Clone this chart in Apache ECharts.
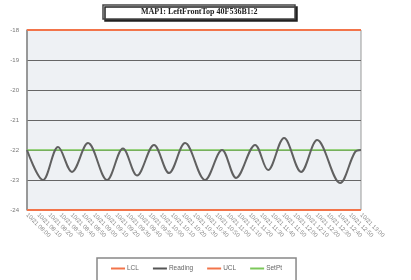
<!DOCTYPE html>
<html>
<head>
<meta charset="utf-8">
<script src="https://cdn.jsdelivr.net/npm/echarts@6/dist/echarts.min.js"></script>
<style>
  html, body { margin: 0; padding: 0; background: #fff; }
  #chart { width: 411px; height: 280px; }
</style>
</head>
<body>
<div id="chart"></div>
<script>
// category labels under the x axis (unreadable in the source, time stamps assumed)
const timeLabels = ['10/21 08:00','10/21 08:10','10/21 08:20','10/21 08:30','10/21 08:40','10/21 08:50',
  '10/21 09:00','10/21 09:10','10/21 09:20','10/21 09:30','10/21 09:40','10/21 09:50',
  '10/21 10:00','10/21 10:10','10/21 10:20','10/21 10:30','10/21 10:40','10/21 10:50',
  '10/21 11:00','10/21 11:10','10/21 11:20','10/21 11:30','10/21 11:40','10/21 11:50',
  '10/21 12:00','10/21 12:10','10/21 12:20','10/21 12:30','10/21 12:40','10/21 12:50','10/21 13:00'];

// reading: [position along the axis (label index), value]
const readingPts = [
  [0, -22.0], [1.44, -23.0], [2.79, -21.9], [4.04, -22.73], [5.48, -21.77],
  [7.19, -23.0], [8.62, -21.95], [9.88, -22.85], [11.41, -21.83], [12.76, -22.77],
  [14.2, -21.77], [15.99, -23.0], [17.52, -22.0], [18.78, -22.93], [20.49, -21.83],
  [21.65, -22.67], [23.09, -21.6], [24.62, -22.73], [26.06, -21.67], [28.12, -23.1],
  [29.46, -22.07], [30, -22.0]
];

const lcl = timeLabels.map(() => -24);
const ucl = timeLabels.map(() => -18);
const setPt = timeLabels.map(() => -22);

const chart = echarts.init(document.getElementById('chart'));
chart.setOption({
  animation: false,
  backgroundColor: '#fff',
  title: {
    text: 'MAP1: LeftFrontTop 40F536B1:2',
    left: 103,
    top: 5,
    padding: [3, 38],
    backgroundColor: '#fff',
    borderColor: '#444',
    borderWidth: 1.5,
    shadowColor: '#222',
    shadowOffsetX: 2,
    shadowOffsetY: 2,
    shadowBlur: 0,
    textStyle: {
      fontFamily: 'Liberation Serif',
      fontSize: 8,
      fontWeight: 'bold',
      color: '#222'
    }
  },
  legend: {
    data: ['LCL', 'Reading', 'UCL', 'SetPt'],
    left: 97,
    top: 258,
    width: 200,
    padding: [7, 14, 10, 14],
    borderColor: '#888',
    borderWidth: 1.5,
    itemWidth: 14,
    itemHeight: 2,
    itemGap: 14,
    icon: 'rect',
    textStyle: { fontSize: 6.5, color: '#666', padding: [0, 0, 0, -3] }
  },
  grid: {
    left: 27, right: 50, top: 30, bottom: 70,
    show: true,
    backgroundColor: '#eef1f4',
    borderColor: '#999',
    borderWidth: 1
  },
  xAxis: [{
    type: 'category',
    data: timeLabels,
    boundaryGap: false,
    axisLine: { show: false },
    axisTick: { show: false },
    axisLabel: {
      interval: 0,
      rotate: -45,
      fontSize: 6,
      color: '#888',
      margin: 4
    }
  }, {
    type: 'value',
    min: 0,
    max: timeLabels.length - 1,
    show: false
  }],
  yAxis: {
    type: 'value',
    min: -24,
    max: -18,
    interval: 1,
    axisLine: { show: true, lineStyle: { color: '#888', width: 1.5 } },
    axisTick: { show: false },
    axisLabel: { fontSize: 6, color: '#777', margin: 8 },
    splitLine: { lineStyle: { color: '#666', width: 1.2 } }
  },
  series: [
    {
      name: 'LCL', type: 'line', data: lcl, symbol: 'none',
      itemStyle: { color: '#f2744a' }, lineStyle: { color: '#f2744a', width: 2 }, z: 3
    },
    {
      name: 'Reading', type: 'line', xAxisIndex: 1, data: readingPts,
      symbol: 'none', smooth: 0.35,
      itemStyle: { color: '#555' }, lineStyle: { color: '#606060', width: 2 }, z: 5
    },
    {
      name: 'UCL', type: 'line', data: ucl, symbol: 'none',
      itemStyle: { color: '#f2744a' }, lineStyle: { color: '#f2744a', width: 2 }, z: 3
    },
    {
      name: 'SetPt', type: 'line', data: setPt, symbol: 'none',
      itemStyle: { color: '#7cc85a' }, lineStyle: { color: '#7cc85a', width: 1.5 }, z: 4
    }
  ]
});
</script>
</body>
</html>
